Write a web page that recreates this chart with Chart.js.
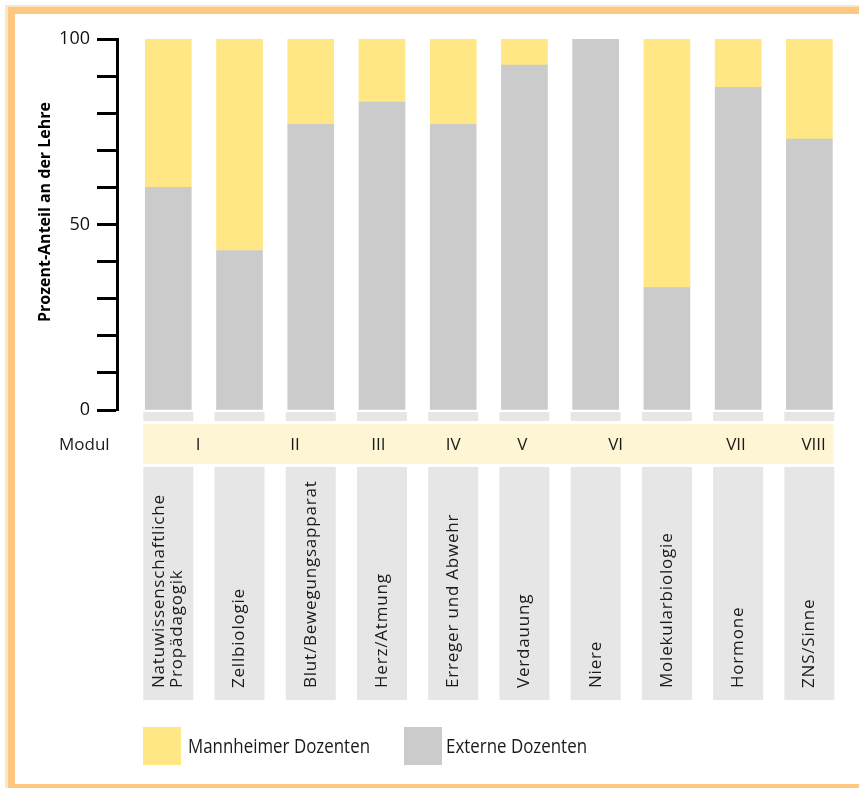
<!DOCTYPE html>
<html>
<head>
<meta charset="utf-8">
<script src="https://cdn.jsdelivr.net/npm/chart.js@4"></script>
<style>
  html, body { margin: 0; padding: 0; background: #fff; overflow: hidden; }
  canvas { display: block; }
</style>
</head>
<body>
<canvas id="c" width="859" height="788"></canvas>
<script>
// ---- data ----
const categories = [
  ['Natuwissenschaftliche', 'Propädagogik'],
  'Zellbiologie',
  'Blut/Bewegungsapparat',
  'Herz/Atmung',
  'Erreger und Abwehr',
  'Verdauung',
  'Niere',
  'Molekularbiologie',
  'Hormone',
  'ZNS/Sinne'
];
const externe    = [60, 43, 77, 83, 77, 93, 100, 33, 87, 73];
const mannheimer = [40, 57, 23, 17, 23, 7, 0, 67, 13, 27];
const modules    = ['I', 'II', 'III', 'IV', 'V', 'VI', 'VII', 'VIII'];
const moduleAt   = [0.42, 1.78, 2.95, 4, 4.97, 6.28, 7.97, 9.06]; // category index positions
const yTickLabels = [0, 50, 100];
const seriesNames = ['Mannheimer Dozenten', 'Externe Dozenten'];
const axisTitle = 'Prozent-Anteil an der Lehre';
const modulLabel = 'Modul';

// ---- styles ----
const YELLOW = '#FEE784';
const GREY = '#CBCBCB';
const LIGHT = '#E6E6E6';
const BAND = '#FDF5D4';
const ORANGE = '#FFC880';
const FONT = '"Open Sans", "Noto Sans", sans-serif';

const frame = {
  id: 'frame',
  beforeDraw(chart) {
    const ctx = chart.ctx;
    ctx.save();
    ctx.fillStyle = '#fff';
    ctx.fillRect(0, 0, 859, 788);
    ctx.fillStyle = '#FDE6C8';
    ctx.fillRect(5, 5, 3, 783);
    ctx.fillRect(5, 5, 854, 2);
    ctx.fillStyle = ORANGE;
    ctx.fillRect(8, 7, 7, 781);
    ctx.fillRect(8, 7, 851, 7);
    ctx.fillRect(8, 784, 851, 4);
    ctx.restore();
  }
};

const extras = {
  id: 'extras',
  afterDraw(chart) {
    const ctx = chart.ctx;
    const xs = chart.scales.x;
    const b = chart.chartArea.bottom;
    ctx.save();
    // light grey strips and label boxes
    ctx.fillStyle = LIGHT;
    categories.forEach((c, i) => {
      const cx = xs.getPixelForValue(i);
      ctx.fillRect(cx - 25, b + 2, 50, 9);
      ctx.fillRect(cx - 25, b + 57, 50, 233);
    });
    // module band
    const x0 = xs.getPixelForValue(0) - 25;
    const x1 = xs.getPixelForValue(categories.length - 1) + 24;
    ctx.fillStyle = BAND;
    ctx.fillRect(x0, b + 14, x1 - x0, 40);
    ctx.fillStyle = '#1a1a1a';
    ctx.font = '17px ' + FONT;
    ctx.textBaseline = 'middle';
    ctx.textAlign = 'left';
    ctx.fillText(modulLabel, 59, b + 35);
    ctx.textAlign = 'center';
    modules.forEach((m, i) => {
      ctx.fillText(m, xs.getPixelForValue(moduleAt[i]), b + 35);
    });
    // category labels (rotated)
    ctx.font = '17px ' + FONT;
    if ('letterSpacing' in ctx) ctx.letterSpacing = '0.8px';
    ctx.textAlign = 'left';
    ctx.textBaseline = 'middle';
    categories.forEach((c, i) => {
      const cx = xs.getPixelForValue(i);
      const lines = Array.isArray(c) ? c : [c];
      const lh = 18;
      lines.forEach((ln, k) => {
        const off = (k - (lines.length - 1) / 2) * lh;
        ctx.save();
        ctx.translate(cx + off, b + 278);
        ctx.rotate(-Math.PI / 2);
        ctx.fillText(ln, 0, 0);
        ctx.restore();
      });
    });
    if ('letterSpacing' in ctx) ctx.letterSpacing = '0px';
    // y axis title
    ctx.save();
    ctx.translate(45, 212);
    ctx.rotate(-Math.PI / 2);
    ctx.font = 'bold 16px ' + FONT;
    ctx.textAlign = 'center';
    ctx.textBaseline = 'middle';
    ctx.fillStyle = '#000';
    ctx.fillText(axisTitle, 0, 0);
    ctx.restore();
    // legend
    const legend = [[YELLOW, seriesNames[0], 143, 188, 182], [GREY, seriesNames[1], 404, 446, 141]];
    ctx.font = '20px ' + FONT;
    ctx.textAlign = 'left';
    ctx.textBaseline = 'middle';
    legend.forEach(([col, txt, bx, tx, w]) => {
      ctx.fillStyle = col;
      ctx.fillRect(bx, 727, 38, 38);
      ctx.fillStyle = '#1a1a1a';
      const mw = ctx.measureText(txt).width;
      ctx.save();
      ctx.translate(tx, 747);
      ctx.scale(w / mw, 1);
      ctx.fillText(txt, 0, 0);
      ctx.restore();
    });
    ctx.restore();
  }
};

new Chart(document.getElementById('c'), {
  type: 'bar',
  data: {
    datasets: [
      { label: seriesNames[1], data: externe.map((v, i) => ({ x: i, y: v })), backgroundColor: GREY,
        barThickness: 46, borderWidth: 0, grouped: false },
      { label: seriesNames[0], data: mannheimer.map((v, i) => ({ x: i, y: v })), backgroundColor: YELLOW,
        barThickness: 46, borderWidth: 0, grouped: false }
    ]
  },
  options: {
    responsive: false,
    animation: false,
    layout: { padding: { left: 0, top: 39, right: 14, bottom: 378 } },
    plugins: { legend: { display: false }, tooltip: { enabled: false } },
    scales: {
      x: {
        type: 'linear', min: -0.72, max: 9.5, stacked: true, display: false, offset: false,
        grid: { offset: false }
      },
      y: {
        stacked: true, min: 0, max: 100,
        afterFit(s) { s.width = 117; },
        ticks: {
          stepSize: 10, padding: 7, color: '#111',
          font: { family: FONT, size: 18 },
          callback: (v) => (yTickLabels.includes(v) ? String(v) : '')
        },
        grid: { drawOnChartArea: false, drawTicks: true, tickLength: 20, tickWidth: 3, tickColor: '#000' },
        border: { display: true, color: '#000', width: 3 }
      }
    }
  },
  plugins: [frame, extras]
});
</script>
</body>
</html>
